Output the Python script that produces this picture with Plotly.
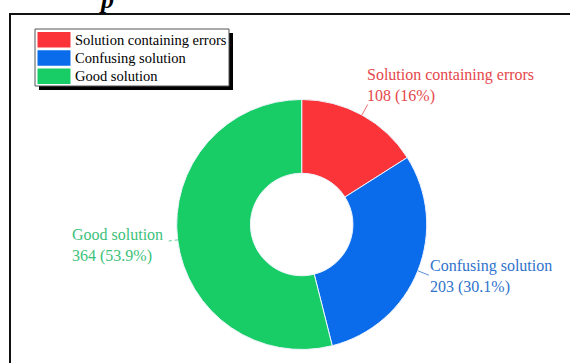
import math
import plotly.graph_objects as go

# ---- data ----
labels = ["Solution containing errors", "Confusing solution", "Good solution"]
values = [108, 203, 364]
slice_colors = ["#FA3438", "#0A6CEB", "#19CD66"]
text_colors = ["#E5474B", "#2F73CC", "#3CC27A"]

W, H = 570, 363
CX, CY, R = 301.7, 224.5, 125.0   # pie centre / radius in pixels
HOLE = 0.41
LEAD = 12.0

def px(x):
    return x / W

def py(y):
    return 1 - y / H

total = sum(values)

def pct_str(v):
    p = round(v / total * 100, 1)
    s = f"{p:.1f}"
    if s.endswith(".0"):
        s = s[:-2]
    return s + "%"

fig = go.Figure()
fig.add_trace(go.Pie(
    labels=labels, values=values, sort=False, direction="clockwise",
    rotation=0, hole=HOLE,
    marker=dict(colors=slice_colors, line=dict(color="#EEF4FF", width=1)),
    textinfo="none", showlegend=False,
    domain=dict(x=[px(CX - R), px(CX + R)], y=[py(CY + R), py(CY - R)]),
))

shapes = []
annotations = []

# label placement styles: (xanchor, yanchor, dx, dy)
label_styles = [("left", "bottom", -3, 3), ("left", "middle", -1, 1), ("right", "middle", -1, 4)]

cum = 0
for i, v in enumerate(values):
    mid = cum + v / 2
    cum += v
    ang = math.radians(90 - mid / total * 360)
    x0 = CX + R * math.cos(ang)
    y0 = CY - R * math.sin(ang)
    x1 = CX + (R + LEAD) * math.cos(ang)
    y1 = CY - (R + LEAD) * math.sin(ang)
    shapes.append(dict(type="line", xref="paper", yref="paper",
                       x0=px(x0), y0=py(y0), x1=px(x1), y1=py(y1),
                       line=dict(color=text_colors[i], width=0.8, dash="dot" if i == 2 else "solid")))
    xa, ya, dx, dy = label_styles[i]
    annotations.append(dict(
        xref="paper", yref="paper", x=px(x1 + dx), y=py(y1 + dy),
        xanchor=xa, yanchor=ya, align="left", showarrow=False,
        text=f"{labels[i]}<br>{v} ({pct_str(v)})",
        font=dict(family="Liberation Serif", size=16, color=text_colors[i]),
    ))

# ---- custom legend ----
LX0, LY0, LX1, LY1 = 35, 29, 229, 86
SH = 4
shapes.append(dict(type="rect", xref="paper", yref="paper",
                   x0=px(LX0 + SH), y0=py(LY1 + SH), x1=px(LX1 + SH), y1=py(LY0 + SH),
                   fillcolor="black", line=dict(width=0)))
shapes.append(dict(type="rect", xref="paper", yref="paper",
                   x0=px(LX0), y0=py(LY1), x1=px(LX1), y1=py(LY0),
                   fillcolor="white", line=dict(color="#555555", width=1)))
row_h = 18.3
for i, lab in enumerate(labels):
    top = LY0 + 3 + i * row_h
    shapes.append(dict(type="rect", xref="paper", yref="paper",
                       x0=px(37.5), y0=py(top + 15.5), x1=px(70.5), y1=py(top),
                       fillcolor=slice_colors[i], line=dict(width=0)))
    annotations.append(dict(
        xref="paper", yref="paper", x=px(72.5), y=py(top + 7.8),
        xanchor="left", yanchor="middle", showarrow=False, text=lab,
        font=dict(family="Liberation Serif", size=14.5, color="black"),
    ))

# ---- outer frame (cropped) ----
shapes.append(dict(type="rect", xref="paper", yref="paper",
                   x0=px(10), y0=py(400), x1=px(600), y1=py(14),
                   line=dict(color="#111111", width=2), fillcolor="rgba(0,0,0,0)"))

# cropped title fragment (cut by the top edge, as in the reference)
annotations.append(dict(
    xref="paper", yref="paper", x=px(97), y=py(16), xanchor="left", yanchor="bottom",
    showarrow=False, text="<b><i>p</i></b>",
    font=dict(family="Liberation Serif", size=26, color="black"),
))

fig.update_layout(
    width=W, height=H, margin=dict(l=0, r=0, t=0, b=0),
    paper_bgcolor="white", plot_bgcolor="white",
    shapes=shapes, annotations=annotations,
)
fig.write_html("out.html")
